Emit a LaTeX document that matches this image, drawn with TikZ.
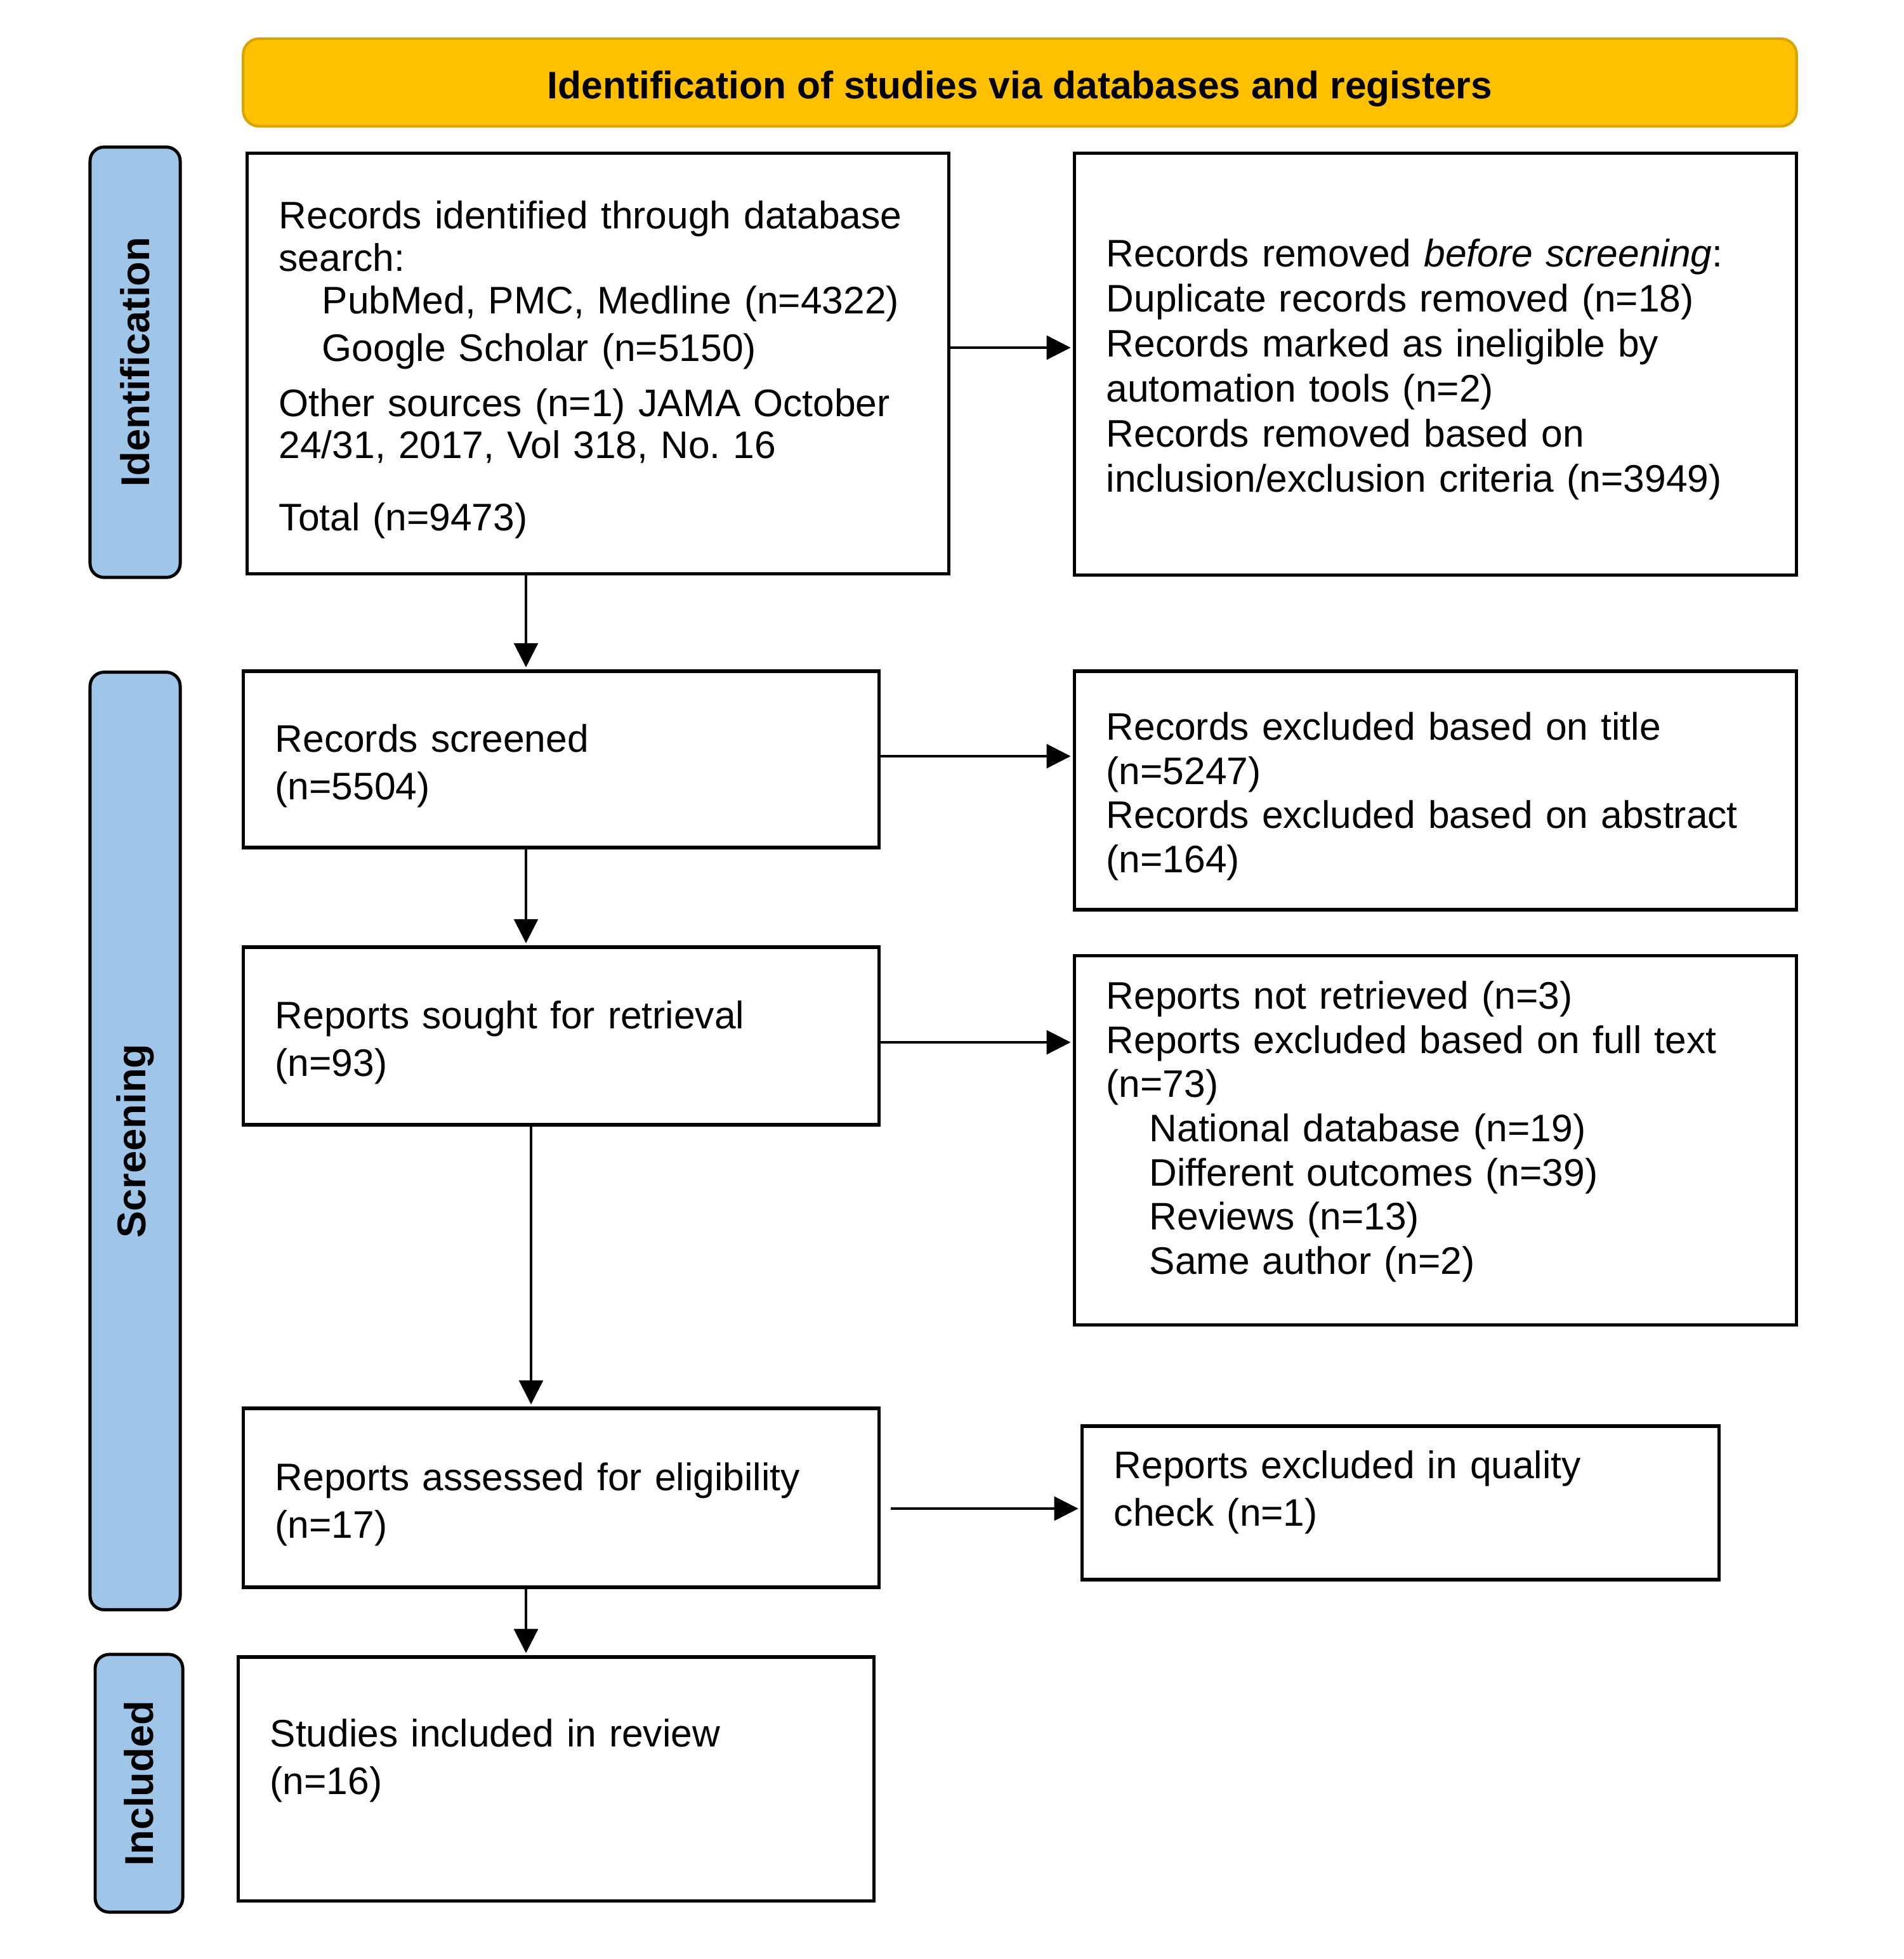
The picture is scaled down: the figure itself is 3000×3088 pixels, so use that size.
\documentclass[tikz,border=0pt]{standalone}
\usepackage{fontspec}
\setmainfont{Liberation Sans}
\usetikzlibrary{positioning, arrows.meta}
\frenchspacing

\definecolor{hdrFill}{HTML}{FFC000}
\definecolor{hdrEdge}{HTML}{D9A300}
\definecolor{sideFill}{HTML}{9FC5E8}

% extra depth below the last line, lifts the text in its box
\newcommand{\lowstrut}[1]{\rule[-#1]{0pt}{#1}}
\newcommand{\ind}{\hspace*{0.68cm}}

\begin{document}
\begin{tikzpicture}[x=0.01cm, y=-0.01cm,
  box/.style={draw, line width=1.5pt, align=left, inner xsep=0.5cm, inner ysep=0pt,
              font=\fontsize{17.2pt}{19.8pt}\selectfont,
              execute at begin node={\rule{0pt}{0.64cm}}},
  twoline/.style={font=\fontsize{17.2pt}{21.3pt}\selectfont},
  phase/.style={draw, line width=1.4pt, fill=sideFill, rounded corners=0.22cm, inner sep=0pt,
                font=\fontsize{18pt}{20pt}\selectfont\bfseries},
  arr/.style={line width=0.9pt, -{Triangle[length=0.38cm, width=0.38cm]}, shorten >=1pt}]

\useasboundingbox (0,0) rectangle (3000,3088);

% header
\node[draw=hdrEdge, line width=1.2pt, fill=hdrFill, rounded corners=0.25cm,
      minimum width=24.47cm, minimum height=1.38cm, text height=0.6cm, text depth=0.09cm,
      font=\fontsize{17.2pt}{19.8pt}\selectfont\bfseries] (hdr) at (1607.5,130)
  {Identification of studies via databases and registers};

% phase bars
\node[phase, minimum width=1.42cm, minimum height=6.78cm]  (idPh)  at (213,571)    {\rotatebox{90}{Identification}};
\node[phase, minimum width=1.42cm, minimum height=14.77cm] (scrPh) at (213,1798.5) {\rotatebox{90}{Screening}};
\node[phase, minimum width=1.38cm, minimum height=4.06cm]  (incPh) at (219,2811)   {\rotatebox{90}{Included}};

% ===== left column =====
\node[box, font=\fontsize{17.2pt}{19pt}\selectfont, text width=10.05cm, minimum height=6.62cm] (recid) at (942.5,573) {%
  Records identified through database\\
  search:\\
  \ind PubMed, PMC, Medline (n=4322)\\[0.08cm]
  \ind Google Scholar (n=5150)\\[0.2cm]
  Other sources (n=1) JAMA October\\
  24/31, 2017, Vol 318, No. 16\\[0.47cm]
  Total (n=9473)};
\node[box, twoline, text width=9.01cm, minimum height=2.78cm] (recscr) at (884.5,1197) {%
  Records screened\\
  (n=5504)};
\node[box, twoline, text width=9.01cm, minimum height=2.80cm] (repsou) at (884.5,1633) {%
  Reports sought for retrieval\\
  (n=93)};
\node[box, twoline, text width=9.01cm, minimum height=2.82cm] (repass) at (884.5,2361) {%
  Reports assessed for eligibility\\
  (n=17)};
\node[box, twoline, text width=9.01cm, minimum height=3.84cm] (incl) at (876.5,2804) {%
  Studies included in review\\
  (n=16)\lowstrut{0.9cm}};

% ===== right column =====
\node[box, font=\fontsize{17.2pt}{20.2pt}\selectfont, text width=10.37cm, minimum height=6.64cm] (recrem) at (2262.5,574) {%
  Records removed \textit{before screening}:\\
  Duplicate records removed (n=18)\\
  Records marked as ineligible by\\
  automation tools (n=2)\\
  Records removed based on\\
  inclusion/exclusion criteria (n=3949)\lowstrut{0.16cm}};
\node[box, text width=10.37cm, minimum height=3.76cm] (recexc) at (2262.5,1246) {%
  Records excluded based on title\\
  (n=5247)\\
  Records excluded based on abstract\\
  (n=164)\lowstrut{0.14cm}};
\node[box, text width=10.37cm, minimum height=5.81cm] (repexc) at (2262.5,1797.5) {%
  Reports not retrieved (n=3)\\
  Reports excluded based on full text\\
  (n=73)\\
  \ind National database (n=19)\\
  \ind Different outcomes (n=39)\\
  \ind Reviews (n=13)\\
  \ind Same author (n=2)\lowstrut{0.6cm}};
\node[box, twoline, text width=9.03cm, minimum height=2.42cm] (repqual) at (2207.5,2369) {%
  Reports excluded in quality\\
  check (n=1)\lowstrut{0.66cm}};

% connectors
\coordinate (spineA) at (829,0);
\coordinate (spineB) at (837,0);

\draw[arr] (recid.south -| spineA)  -- (recscr.north -| spineA);
\draw[arr] (recscr.south -| spineA) -- (repsou.north -| spineA);
\draw[arr] (repsou.south -| spineB) -- (repass.north -| spineB);
\draw[arr] (repass.south -| spineA) -- (incl.north -| spineA);

\draw[arr] ([yshift=2.5mm]recid.east)   -- ([yshift=2.5mm]recid.east -| recrem.west);
\draw[arr] ([yshift=0.5mm]recscr.east)  -- ([yshift=0.5mm]recscr.east -| recexc.west);
\draw[arr] ([yshift=-1mm]repsou.east)   -- ([yshift=-1mm]repsou.east -| repexc.west);
\draw[arr] ([xshift=1.6mm, yshift=-1.7mm]repass.east) -- ([yshift=-1.7mm]repass.east -| repqual.west);

\end{tikzpicture}
\end{document}
